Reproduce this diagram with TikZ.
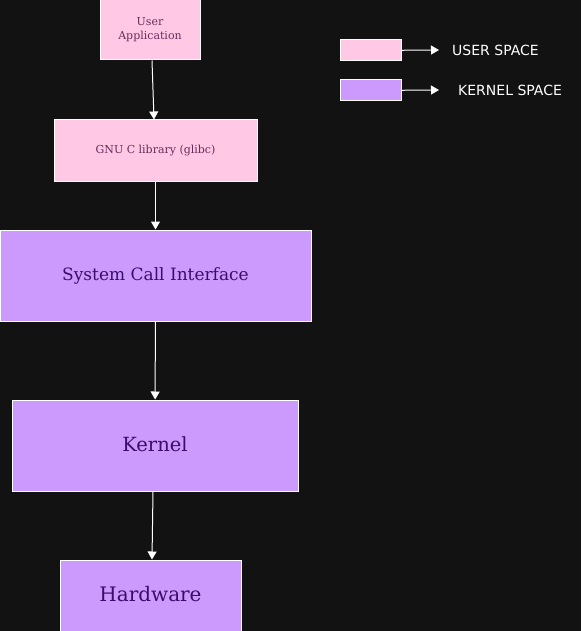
\documentclass[tikz,border=0pt]{standalone}
\usepackage{fontspec}
\setmainfont{DejaVu Serif}
\newfontfamily\legendfont{DejaVu Sans}
\usetikzlibrary{positioning, arrows.meta}
\definecolor{bgdark}{HTML}{121212}
\definecolor{userpink}{HTML}{FFC9E5}
\definecolor{kernpurple}{HTML}{CC9AFC}
\definecolor{usertext}{HTML}{6A2A5A}
\definecolor{kerntext}{HTML}{3B0C6A}

\begin{document}
\begin{tikzpicture}[
    x=1pt, y=-1pt,
    % Styles
    userbox/.style={% For user space boxes
        rectangle,
        draw=white,
        line width=1pt,
        fill=userpink,
        text=usertext,
        inner sep=0pt,
        align=center,
    },
    kernbox/.style={% For kernel space boxes
        rectangle,
        draw=white,
        line width=1pt,
        fill=kernpurple,
        text=kerntext,
        inner sep=0pt,
        align=center,
    },
    legendtext/.style={% For legend labels
        font=\legendfont\fontsize{14}{16}\selectfont,
        text=white,
        anchor=west,
        inner sep=0pt,
    },
    flow/.style={% Arrows between boxes
        draw=white,
        line width=1pt,
        -{Triangle[width=9pt,length=8pt]},
    },
    ]

    % Background
    \fill [bgdark] (0,0) rectangle (581,631);
    \useasboundingbox (0,0) rectangle (581,631);

    % Draw user space boxes
    \node [userbox, minimum width=100, minimum height=60,
        font=\fontsize{11}{14}\selectfont] (app) at (150,30) {User\\Application};
    \node [userbox, minimum width=203, minimum height=61,
        font=\fontsize{11}{14}\selectfont] (glibc) at (155.5,150.5) {GNU C library (glibc)};

    % Draw kernel space boxes
    \node [kernbox, minimum width=311, minimum height=91,
        font=\fontsize{17}{20}\selectfont] (sci) at (155.5,275.5) {System Call Interface};
    \node [kernbox, minimum width=286, minimum height=91,
        font=\fontsize{19.5}{22}\selectfont] (kernel) at (155,445.5) {\raisebox{2.5pt}{Kernel}};
    \node [kernbox, minimum width=181, minimum height=75,
        font=\fontsize{20}{22}\selectfont] (hw) at (150.5,597.5) {\raisebox{7pt}{Hardware}};

    % Draw legend
    \node [userbox, minimum width=61, minimum height=21] (luser) at (370.5,50.5) {};
    \node [kernbox, minimum width=61, minimum height=21] (lkern) at (370.5,90.5) {};
    \node [legendtext] (tuser) at (452,50) {USER SPACE};
    \node [legendtext] (tkern) at (458,90) {KERNEL SPACE};

    % Connect all
    \draw [flow] (app.south -| 152,0) -- (glibc.north -| 154,0);
    \draw [flow] (glibc) -- (sci);
    \draw [flow] (sci) -- (kernel);
    \draw [flow] (kernel.south -| 153,0) -- (hw.north -| 152,0);

    % Legend arrows
    \draw [flow] (luser) -- ([xshift=-13]tuser.west);
    \draw [flow] (lkern) -- ([xshift=-19]tkern.west);

\end{tikzpicture}
\end{document}
